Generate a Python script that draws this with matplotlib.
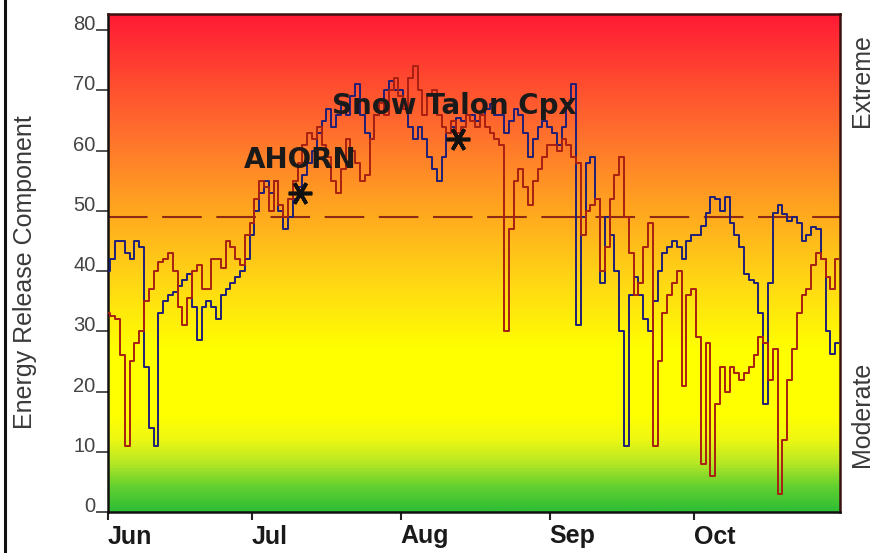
import numpy as np
import pandas as pd
import matplotlib
matplotlib.use("Agg")
import matplotlib.pyplot as plt
import matplotlib.dates as mdates
from matplotlib.colors import LinearSegmentedColormap
from matplotlib.lines import Line2D

# ---------------- data ----------------
dates = pd.date_range("2013-06-01", "2013-10-31", freq="D")

erc_blue = [
    # Jun
    40, 42, 45, 45, 43, 42, 45, 44, 24, 14, 11, 33, 35, 36, 36.5, 37.5, 38.5, 39.6, 34, 28.5,
    34, 35, 34, 32, 36, 37, 38, 39, 40, 42,
    # Jul
    46, 50, 53, 55, 53, 55, 50, 47, 49, 52, 54, 56, 58, 60, 63, 65, 67, 64, 66, 68,
    66, 69, 71, 66, 63, 62, 66, 68, 70, 71.5, 70,
    # Aug
    70, 67, 64, 62, 64, 62, 59, 57, 55, 59, 63, 64, 65.5, 65, 66, 66, 65, 66, 67, 67.8,
    66, 66, 63, 65, 67, 66, 63, 59, 62, 64, 65,
    # Sep
    64, 63, 61, 64, 68, 71, 31, 49, 58, 59, 52, 38, 49, 46, 40, 30, 11, 36, 39, 36,
    32, 30, 35, 40, 43, 44, 45, 44, 42, 45,
    # Oct
    46, 46, 47.5, 49.6, 52.3, 52, 50, 52.3, 48, 46, 44, 39.6, 38.5, 38, 33, 18, 38, 49.6, 51, 49.5,
    48.4, 49, 48, 45, 46, 47.3, 47, 42, 30, 26.3, 28,
]

erc_red = [
    # Jun
    33, 32.5, 32, 26, 11, 25, 28, 30, 35, 37, 40, 41.5, 42, 43, 40, 34, 31, 35.6, 40, 41,
    37, 37, 42, 42, 40.5, 45, 44, 42, 41, 46,
    # Jul
    48, 52, 55, 54, 50, 55, 51, 49, 52, 55, 58, 61, 63, 62, 64, 61, 59, 55, 53, 57,
    62, 60, 58, 55, 56, 62, 66, 68, 66, 70, 72,
    # Aug
    69, 67, 72, 74, 70, 66, 69, 70, 66, 64, 63, 65, 63, 64, 66, 65, 64, 66, 64, 63,
    62, 61, 30, 47, 55, 57, 54, 51, 55, 57, 59,
    # Sep
    61, 61, 60, 62, 61, 59, 58, 46, 50, 51, 52, 40, 44, 52, 56, 59, 49, 43, 36, 38,
    44, 48, 11, 25, 33, 36, 38, 40, 21, 36,
    # Oct
    37, 29, 8, 28, 6, 18, 24, 20, 24, 23, 22, 23, 24, 26, 29, 28, 22, 27, 3, 12,
    22, 27, 33, 36, 37, 41, 43, 42, 39, 37, 42,
]

threshold = 49
y_ticks = [0, 10, 20, 30, 40, 50, 60, 70, 80]
month_labels = ["Jun", "Jul", "Aug", "Sep", "Oct"]
month_starts = pd.to_datetime(["2013-06-01", "2013-07-01", "2013-08-01", "2013-09-01", "2013-10-01"])

fire_names = ["AHORN", "Snow Talon Cpx"]
fire_dates = pd.to_datetime(["2013-07-11", "2013-08-13"])
fire_erc = [53, 62]
label_y = [58.4, 67.5]

# ---------------- figure ----------------
W, H = 874, 553
fig = plt.figure(figsize=(W / 100, H / 100), dpi=100)
ax = fig.add_axes([108 / W, (553 - 512) / H, (840 - 108) / W, (512 - 14) / H])

xmin = mdates.date2num(dates[0])
xmax = mdates.date2num(dates[-1]) + 0.5
ymax = 82.7

# gradient background
stops = [(0.0, "#2fbf35"), (4.0, "#62d030"), (8.0, "#b8e824"), (12.0, "#eef812"),
         (16.0, "#ffff00"), (27.0, "#ffff00"), (38.0, "#ffd814"), (50.0, "#ffa71f"),
         (62.0, "#ff742c"), (72.0, "#ff4a30"), (ymax, "#ff1a35")]
cmap = LinearSegmentedColormap.from_list("erc", [(v / ymax, c) for v, c in stops])
grad = np.linspace(0, 1, 400).reshape(-1, 1)
ax.imshow(grad, cmap=cmap, aspect="auto", origin="lower",
          extent=[xmin, xmax, 0, ymax], zorder=0, interpolation="bilinear")

ax.plot(dates, erc_blue, drawstyle="steps-mid", color="#1f1f78", lw=1.4, zorder=3)
ax.plot(dates, erc_red, drawstyle="steps-mid", color="#a82012", lw=1.4, zorder=4)

ax.axhline(threshold, color="#8e2a12", lw=1.5, dashes=(19, 7), zorder=2)

ax.plot(fire_dates, fire_erc, ls="none", marker=(6, 2, 90), ms=17, mew=2.6,
        color="#111111", zorder=6)
label_x = [mdates.date2num(fire_dates[0]), mdates.date2num(fire_dates[1]) - 0.8]
for name, lx, ly in zip(fire_names, label_x, label_y):
    ax.text(lx, ly, name, ha="center", va="center", fontsize=20,
            fontweight="bold", family="DejaVu Sans", color="#1a1a1a", zorder=7)

ax.set_xlim(xmin, xmax)
ax.set_ylim(0, ymax)

ax.set_xticks(month_starts)
ax.set_xticklabels(month_labels, fontsize=18, fontweight="bold",
                   family="Liberation Sans", color="#1a1a1a")
for lab in ax.get_xticklabels():
    lab.set_ha("left")
ax.tick_params(axis="x", direction="out", length=6, width=1.5, pad=3, color="#222222")

ax.set_yticks(y_ticks)
ax.set_yticklabels([str(v) for v in y_ticks], fontsize=14.5,
                   family="Liberation Sans", color="#444444")
for lab in ax.get_yticklabels():
    lab.set_va("baseline")
ax.tick_params(axis="y", direction="out", length=9, width=1.2, pad=0, color="#333333")

for side in ["left", "bottom"]:
    ax.spines[side].set_color("#111111")
    ax.spines[side].set_linewidth(1.8)
for side in ["top", "right"]:
    ax.spines[side].set_color("#3a1010")
    ax.spines[side].set_linewidth(1.8)

fig.text(25 / W, 1 - 272 / H, "Energy Release Component", rotation=90,
         ha="center", va="center", fontsize=18, family="Liberation Sans", color="#3a3a3a")
fig.text(862 / W, 1 - 81 / H, "Extreme", rotation=90,
         ha="center", va="center", fontsize=18, family="Liberation Sans", color="#3a3a3a")
fig.text(862 / W, 1 - 414 / H, "Moderate", rotation=90,
         ha="center", va="center", fontsize=18, family="Liberation Sans", color="#3a3a3a")

# left image border line
fig.add_artist(Line2D([5 / W, 5 / W], [0, 1], transform=fig.transFigure,
                      color="#111111", lw=2.2))

fig.savefig("out.png", dpi=100)
